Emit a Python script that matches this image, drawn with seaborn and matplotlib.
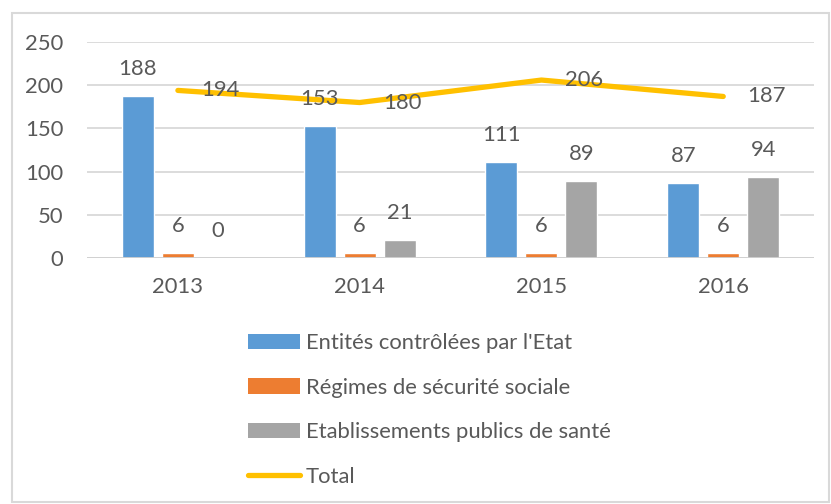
import matplotlib
matplotlib.use('Agg')
import matplotlib.pyplot as plt
import seaborn as sns
import pandas as pd
from matplotlib.patches import Rectangle, Patch
from matplotlib.lines import Line2D

years = ['2013', '2014', '2015', '2016']
entites = [188, 153, 111, 87]
regimes = [6, 6, 6, 6]
etablissements = [0, 21, 89, 94]
total = [194, 180, 206, 187]

series_names = ["Entités contrôlées par l'Etat", "Régimes de sécurité sociale",
                "Etablissements publics de santé"]
colors = ['#5B9BD5', '#ED7D31', '#A5A5A5']
line_color = '#FFC000'
text_color = '#595959'

df = pd.DataFrame({
    'annee': years * 3,
    'serie': [series_names[0]] * 4 + [series_names[1]] * 4 + [series_names[2]] * 4,
    'valeur': entites + regimes + etablissements,
})
df_total = pd.DataFrame({'pos': range(len(years)), 'total': total})

sns.set_theme(style='white')
plt.rcParams['font.family'] = ['Lato', 'DejaVu Sans']
fs = 15.8

fig = plt.figure(figsize=(8.31, 5.04), dpi=100)
ax = fig.add_axes([0.1047, 0.488, 0.875, 0.4286])

sns.barplot(data=df, x='annee', y='valeur', hue='serie', palette=colors,
            width=0.66, gap=0.2, ax=ax, legend=False, saturation=1)
sns.lineplot(data=df_total, x='pos', y='total', color=line_color, lw=3.8,
             ax=ax, legend=False, solid_capstyle='round')

# etiquettes
for cont in ax.containers:
    for rect in cont:
        h = rect.get_height()
        ax.annotate(f'{int(h)}', (rect.get_x() + rect.get_width() / 2, h),
                    xytext=(0, 12), textcoords='offset points', ha='center',
                    va='bottom', fontsize=fs, color=text_color)
for i, v in enumerate(total):
    ax.annotate(f'{v}', (i, v), xytext=(17, 0), textcoords='offset points',
                ha='left', va='center', fontsize=fs, color=text_color)

ax.set_xlim(-0.5, 3.5)
ax.set_ylim(0, 250)
ax.set_yticks([0, 50, 100, 150, 200, 250])
ax.yaxis.grid(True, color='#d9d9d9', lw=1.3)
ax.set_axisbelow(True)
ax.axhline(0, color='#d0d0d0', lw=2, zorder=1)
for s in ax.spines.values():
    s.set_visible(False)
ax.set_xlabel('')
ax.set_ylabel('')
ax.tick_params(axis='y', length=0, pad=17, labelsize=fs, labelcolor=text_color)
ax.tick_params(axis='x', length=0, pad=14, labelsize=fs, labelcolor=text_color)

handles = [Patch(facecolor=c, edgecolor='none') for c in colors]
handles.append(Line2D([0], [0], color=line_color, lw=3.8, solid_capstyle='round'))
fig.legend(handles, series_names + ['Total'], loc='upper left',
           bbox_to_anchor=(248 / 831, 1 - 333 / 504), frameon=False,
           fontsize=fs, labelcolor=text_color, handlelength=2.35,
           handletextpad=0.28, labelspacing=1.12, borderpad=0, borderaxespad=0)

fig.patches.append(Rectangle((12 / 831, 2 / 504), 817 / 831, 489 / 504,
                             transform=fig.transFigure, fill=False,
                             edgecolor='#d9d9d9', lw=1.5))

fig.savefig('out.png', dpi=100)
